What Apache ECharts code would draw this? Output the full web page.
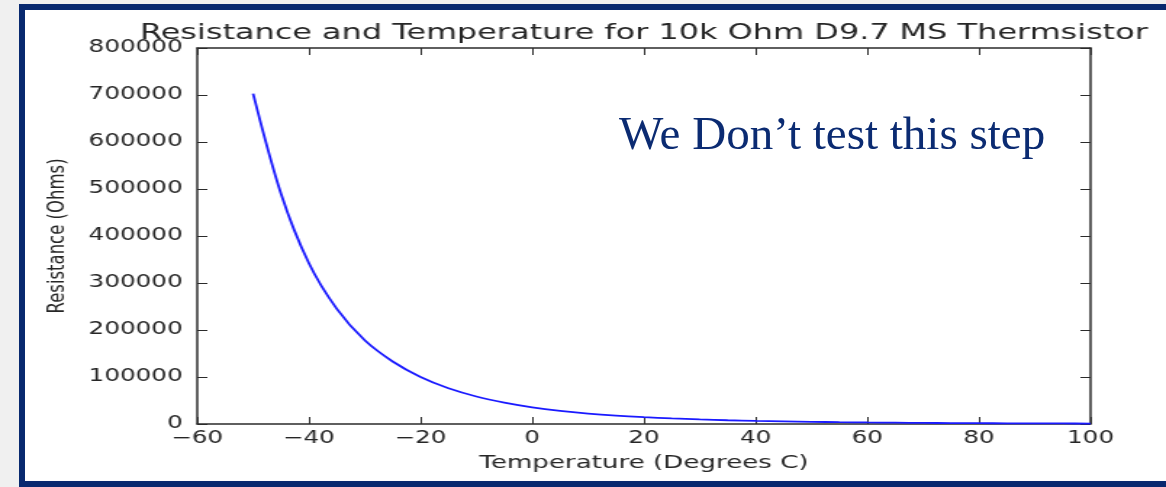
<!DOCTYPE html>
<html>
<head>
<meta charset="utf-8">
<script src="https://cdn.jsdelivr.net/npm/echarts@6/dist/echarts.min.js"></script>
<style>
  html, body { margin: 0; padding: 0; background: #f0f0f0; }
  body { width: 1166px; height: 487px; position: relative; overflow: hidden; }
  .frame {
    position: absolute; left: 19px; top: 4px; width: 1200px; height: 471px;
    border: 6px solid #08296f; background: #ffffff;
  }
  #chart {
    position: absolute; left: 0; top: 0; width: 804px; height: 487px;
    transform: scaleX(1.4502); transform-origin: 0 0;
  }
  .note {
    position: absolute; left: 619px; top: 110px; line-height: 47px;
    font-family: 'Liberation Serif', serif; font-size: 47px; color: #0b2b72;
    white-space: nowrap;
  }
</style>
</head>
<body>
<div class="frame"></div>
<div id="chart"></div>
<div class="note">We Don’t test this step</div>
<script>
// readings taken off the reference curve
const temperatures = [-50, -45, -40, -35, -30, -25, -20, -15, -10, -5, 0, 5, 10, 15, 20, 25,
  30, 35, 40, 45, 50, 55, 60, 65, 70, 75, 80, 85, 90, 95, 100]
const resistance = [703000, 490000, 342000, 245000, 178000, 133000, 100000, 76000, 58500, 45500,
  35500, 28000, 22300, 17900, 14500, 11800, 9700, 8000, 6600, 5500, 4600, 3850, 3250, 2750,
  2350, 2000, 1750, 1500, 1300, 1150, 1000]

const titleText = 'Resistance and Temperature for 10k Ohm D9.7 MS Thermsistor'
const xName = 'Temperature (Degrees C)'
const yName = 'Resistance (Ohms)'
const xMin = -60, xMax = 100, xStep = 20
const yMin = 0, yMax = 800000, yStep = 100000

const axisColor = '#2b2b2b'
const labelColor = '#262626'
const font = 'DejaVu Sans'

const myChart = echarts.init(document.getElementById('chart'))

const boxAxis = {
  axisLine: { show: true, onZero: false, lineStyle: { color: axisColor, width: 1.5 } },
  axisTick: { show: true, inside: true, length: 7, lineStyle: { color: axisColor, width: 1 } },
  splitLine: { show: false }
}

const option = {
  animation: false,
  title: {
    text: titleText,
    left: 444,
    top: 22,
    padding: 0,
    textAlign: 'center',
    textStyle: { fontFamily: font, fontSize: 22, fontWeight: 'normal', color: labelColor }
  },
  grid: { left: 136, right: 52, top: 48, bottom: 63 },
  xAxis: [
    {
      type: 'value',
      min: xMin,
      max: xMax,
      interval: xStep,
      name: xName,
      nameLocation: 'middle',
      nameGap: 30,
      nameTextStyle: { fontFamily: font, fontSize: 18, color: labelColor },
      ...boxAxis,
      axisLabel: {
        margin: 6,
        fontFamily: font,
        fontSize: 17,
        color: labelColor,
        formatter: (v) => String(v).replace('-', '\u2212')
      }
    },
    {
      type: 'value',
      position: 'top',
      min: xMin,
      max: xMax,
      interval: xStep,
      ...boxAxis,
      axisLabel: { show: false }
    }
  ],
  yAxis: [
    {
      type: 'value',
      min: yMin,
      max: yMax,
      interval: yStep,
      name: yName,
      nameLocation: 'middle',
      nameGap: 88,
      nameTextStyle: { fontFamily: font, fontSize: 16.5, color: labelColor },
      ...boxAxis,
      axisLabel: {
        margin: 10,
        fontFamily: font,
        fontSize: 17,
        color: labelColor,
        formatter: (v) => String(v)
      }
    },
    {
      type: 'value',
      position: 'right',
      min: yMin,
      max: yMax,
      interval: yStep,
      ...boxAxis,
      axisLabel: { show: false }
    }
  ],
  series: [
    {
      type: 'line',
      data: temperatures.map((t, i) => [t, resistance[i]]),
      smooth: 0.3,
      showSymbol: false,
      lineStyle: { color: '#1a1aff', width: 1.8 }
    }
  ]
}
myChart.setOption(option)
</script>
</body>
</html>
